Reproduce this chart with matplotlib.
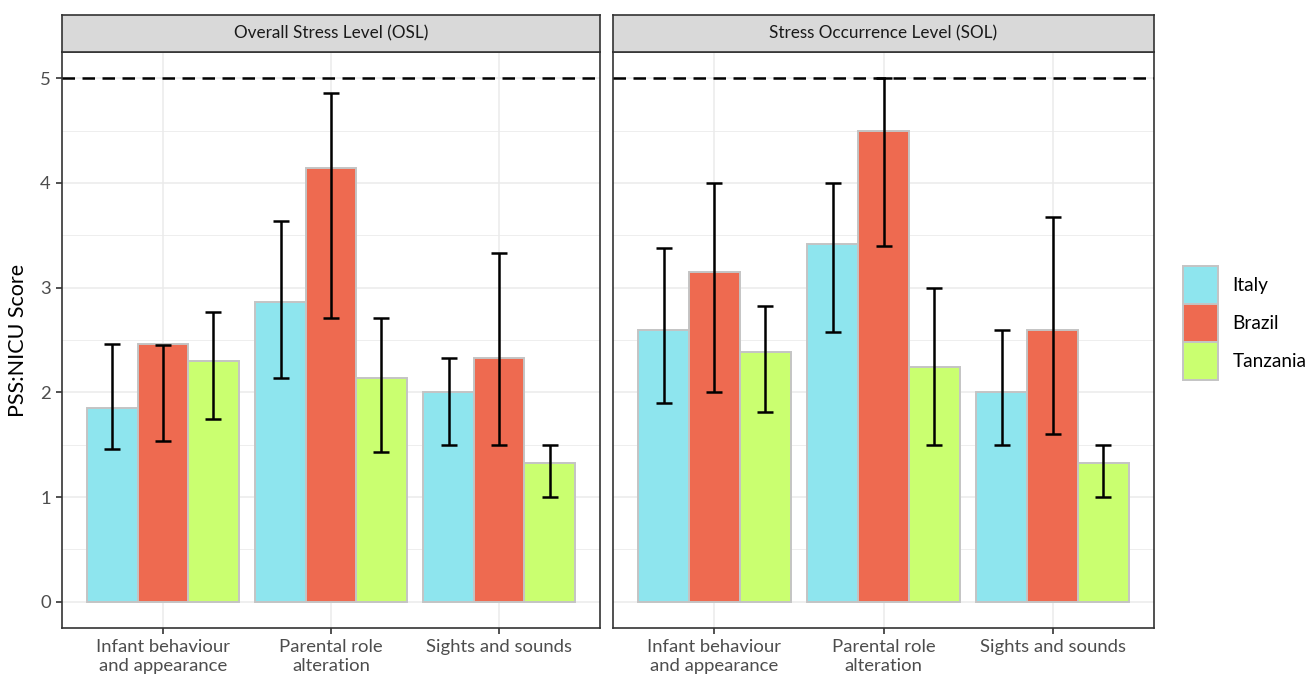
import matplotlib.pyplot as plt
import numpy as np
from matplotlib.patches import Patch

plt.rcParams['font.family'] = ['Lato', 'DejaVu Sans']

categories = ['Infant behaviour\nand appearance', 'Parental role\nalteration', 'Sights and sounds']
countries = ['Italy', 'Brazil', 'Tanzania']
colors = ['#8EE5EE', '#EE6A50', '#CAFF70']
panels = ['Overall Stress Level (OSL)', 'Stress Occurrence Level (SOL)']

# OSL: mean, lower, upper per country (over categories)
osl_mean = {'Italy': [1.85, 2.86, 2.00], 'Brazil': [2.46, 4.14, 2.33], 'Tanzania': [2.30, 2.14, 1.33]}
osl_low = {'Italy': [1.46, 2.14, 1.50], 'Brazil': [1.54, 2.71, 1.50], 'Tanzania': [1.75, 1.43, 1.00]}
osl_high = {'Italy': [2.46, 3.64, 2.33], 'Brazil': [2.45, 4.86, 3.33], 'Tanzania': [2.77, 2.71, 1.50]}

# SOL
sol_mean = {'Italy': [2.60, 3.42, 2.00], 'Brazil': [3.15, 4.50, 2.60], 'Tanzania': [2.39, 2.24, 1.33]}
sol_low = {'Italy': [1.90, 2.58, 1.50], 'Brazil': [2.00, 3.40, 1.60], 'Tanzania': [1.81, 1.50, 1.00]}
sol_high = {'Italy': [3.38, 4.00, 2.60], 'Brazil': [4.00, 5.00, 3.67], 'Tanzania': [2.82, 3.00, 1.50]}

data = [(osl_mean, osl_low, osl_high), (sol_mean, sol_low, sol_high)]

W, H = 1307, 677
fig = plt.figure(figsize=(W / 100, H / 100), dpi=100)

lefts = [62, 613]
rights = [600, 1154]
top, bottom, strip_top = 52, 628, 15

x = np.arange(1, 4)
bw = 0.3

for p in range(2):
    l, r = lefts[p], rights[p]
    ax = fig.add_axes([l / W, 1 - bottom / H, (r - l) / W, (bottom - top) / H])
    mean, low, high = data[p]
    for i, c in enumerate(countries):
        xs = x + (i - 1) * bw
        ax.bar(xs, mean[c], width=bw, color=colors[i], edgecolor='#C4C4C4', linewidth=1.4, zorder=2)
        lo, hi = np.array(low[c]), np.array(high[c])
        ax.errorbar(xs, (lo + hi) / 2, yerr=(hi - lo) / 2, fmt='none',
                    ecolor='black', elinewidth=1.8, capsize=6, capthick=1.8, zorder=3)
    ax.axhline(5, color='black', linestyle=(0, (5, 3)), linewidth=1.8, zorder=4)
    ax.set_xlim(0.4, 3.6)
    ax.set_ylim(-0.25, 5.25)
    ax.set_yticks(range(6))
    ax.set_yticks(np.arange(0.5, 5, 1), minor=True)
    ax.set_xticks(x)
    ax.set_xticklabels(categories, fontsize=13.3, color='#4D4D4D', linespacing=1.2)
    ax.grid(which='major', color='#EBEBEB', linewidth=1.1, zorder=0)
    ax.grid(which='minor', axis='y', color='#EBEBEB', linewidth=0.6, zorder=0)
    ax.set_axisbelow(True)
    ax.tick_params(axis='x', length=4, width=1.2, color='#333333', pad=4)
    ax.tick_params(axis='y', which='minor', length=0)
    if p == 0:
        ax.tick_params(axis='y', length=4, width=1.2, color='#333333', labelsize=13.3,
                       labelcolor='#4D4D4D', pad=4)
        ax.set_ylabel('PSS:NICU Score', fontsize=15.5, color='black', labelpad=9)
    else:
        ax.tick_params(axis='y', length=0, labelleft=False)
    for s in ax.spines.values():
        s.set_color('#333333')
        s.set_linewidth(1.2)

    sx = fig.add_axes([l / W, 1 - top / H, (r - l) / W, (top - strip_top) / H])
    sx.set_facecolor('#D9D9D9')
    sx.set_xticks([])
    sx.set_yticks([])
    for s in sx.spines.values():
        s.set_color('#333333')
        s.set_linewidth(1.2)
    sx.text(0.5, 0.5, panels[p], ha='center', va='center', fontsize=12.3, color='#1A1A1A',
            transform=sx.transAxes)

handles = [Patch(facecolor=colors[i], edgecolor='#C4C4C4', linewidth=1.4, label=countries[i])
           for i in range(3)]
fig.legend(handles=handles, loc='upper left', bbox_to_anchor=(1183 / W, 1 - 266 / H),
           frameon=False, fontsize=13.7, handlelength=1.85, handleheight=2.7,
           labelspacing=0.0, borderpad=0, borderaxespad=0, handletextpad=0.75)

fig.savefig('out.png', dpi=100)
